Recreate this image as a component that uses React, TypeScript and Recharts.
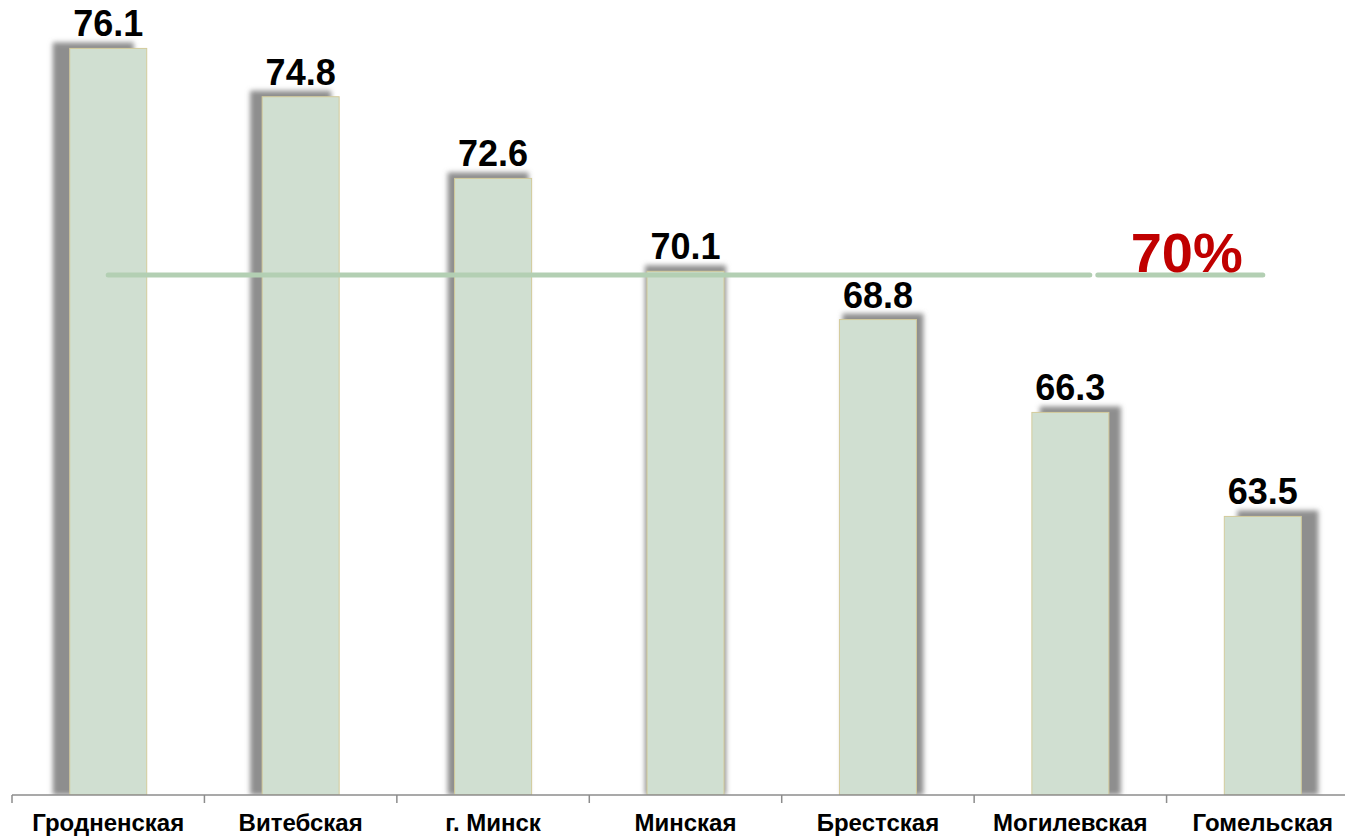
import React from 'react';
import { BarChart, Bar, XAxis, YAxis, ReferenceLine, LabelList } from 'recharts';

const regions = ['Гродненская', 'Витебская', 'г. Минск', 'Минская', 'Брестская', 'Могилевская', 'Гомельская'];
const shares = [76.1, 74.8, 72.6, 70.1, 68.8, 66.3, 63.5];
const target = 70;
const targetLabel = '70%';

const data = regions.map((name, i) => ({ name, value: shares[i] }));

const FONT = '"Liberation Sans", Arial, sans-serif';
const CHART_W = 1370;
const PLOT_LEFT = 12;
const PLOT_RIGHT = 11;

// bar with a soft drop shadow that leans outward from the middle
const ShadowBar = (props: any) => {
  const { x, y, width, height, index } = props;
  const dx = (index - 3) * 5;
  const id = `shadow-${index}`;
  return (
    <g>
      <defs>
        <filter id={id} x="-30%" y="-10%" width="160%" height="120%">
          <feGaussianBlur stdDeviation="2.5" />
        </filter>
      </defs>
      <rect x={x + dx - 2} y={y - 6} width={width + 4} height={height + 6} fill="#8e8e8e" filter={`url(#${id})`} />
      <rect x={x} y={y} width={width} height={height} fill="#d0dfd1" stroke="#d3cb9b" strokeWidth={1} />
    </g>
  );
};

// target line with the small break and the red caption
const TargetLine = (props: any) => {
  const { x1, y1, x2 } = props;
  const stroke = '#b3cfb3';
  return (
    <g>
      <line x1={x1} y1={y1} x2={x2 - 173} y2={y1} stroke={stroke} strokeWidth={5} strokeLinecap="round" />
      <line x1={x2 - 165} y1={y1} x2={x2} y2={y1} stroke={stroke} strokeWidth={5} strokeLinecap="round" />
      <text x={x2 - 20} y={y1 - 3} textAnchor="end" fill="#c00000" fontSize={56} fontWeight="bold" fontFamily={FONT}>
        {targetLabel}
      </text>
    </g>
  );
};

// category label centred, tick mark on the left boundary of each band
const CategoryTick = (props: any) => {
  const { x, y, payload } = props;
  const half = (CHART_W - PLOT_LEFT - PLOT_RIGHT) / regions.length / 2;
  return (
    <g>
      <line x1={x - half} y1={y - 8} x2={x - half} y2={y} stroke="#8c8c8c" strokeWidth={1.5} />
      <text x={x} y={y + 28} textAnchor="middle" fill="#000" fontSize={24} fontWeight="bold" fontFamily={FONT}>
        {payload.value}
      </text>
    </g>
  );
};

const ValueLabel = (props: any) => {
  const { x, y, width, value } = props;
  return (
    <text x={x + width / 2} y={y - 12} textAnchor="middle" fill="#000" fontSize={36} fontWeight="bold" fontFamily={FONT}>
      {value}
    </text>
  );
};

export default function App() {
  return (
    <div style={{ position: 'absolute', left: 0, top: 0, width: 1345, height: 838, overflow: 'hidden', background: '#fff' }}>
      <BarChart
        width={CHART_W}
        height={838}
        data={data}
        margin={{ top: 15, right: PLOT_RIGHT, left: PLOT_LEFT, bottom: 0 }}
        barCategoryGap="30%"
      >
        <XAxis
          dataKey="name"
          height={43}
          axisLine={{ stroke: '#8c8c8c', strokeWidth: 1.5 }}
          tickLine={false}
          tick={<CategoryTick />}
          interval={0}
        />
        <YAxis hide domain={[56, 77]} allowDataOverflow />
        <Bar dataKey="value" shape={<ShadowBar />} isAnimationActive={false}>
          <LabelList dataKey="value" content={<ValueLabel />} />
        </Bar>
        <ReferenceLine
          segment={[{ x: regions[0], y: target }, { x: regions[regions.length - 1], y: target }]}
          shape={<TargetLine />}
        />
      </BarChart>
    </div>
  );
}
